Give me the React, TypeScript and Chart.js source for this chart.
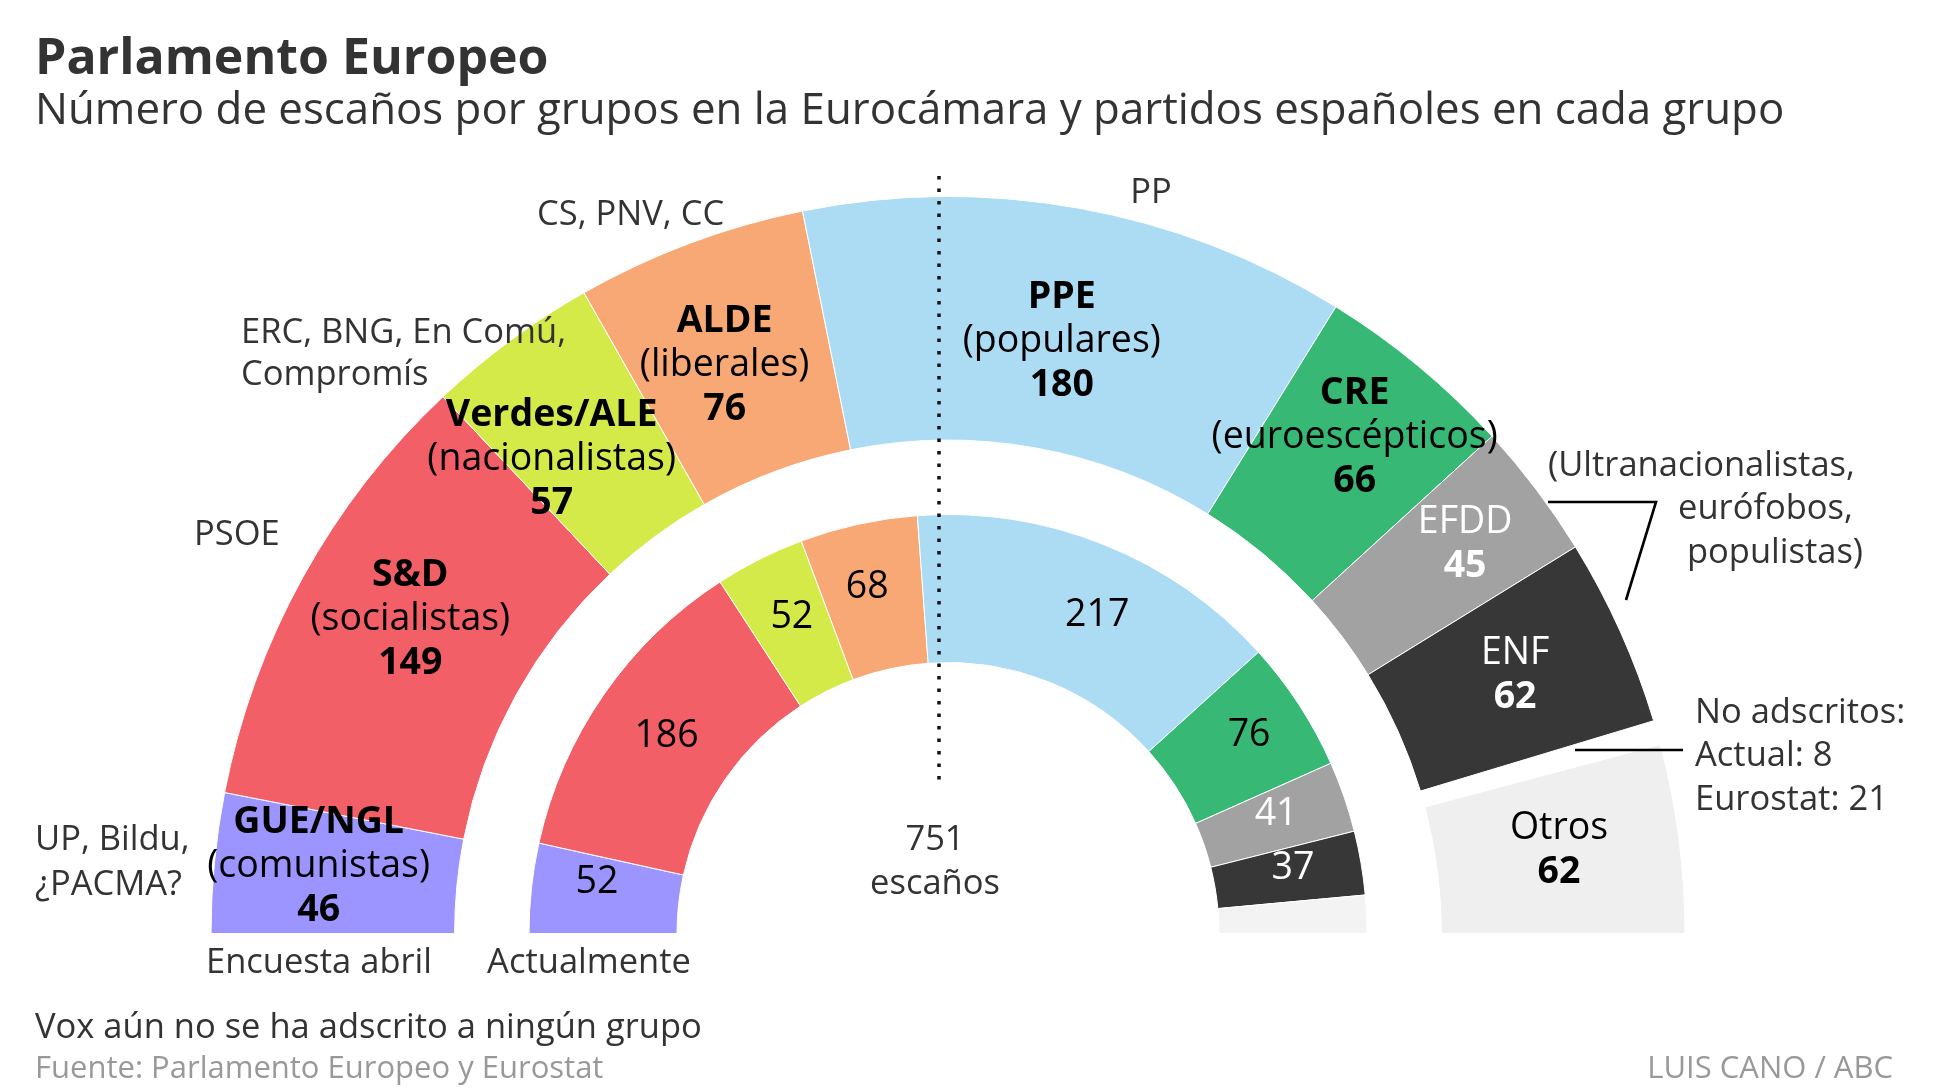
import React, { useEffect, useRef } from 'react';
import { Chart, registerables } from 'chart.js';

Chart.register(...registerables);

// ---- Data ----
const groups = ['GUE/NGL', 'S&D', 'Verdes/ALE', 'ALDE', 'PPE', 'CRE', 'EFDD', 'ENF', 'No adscritos', 'Otros'];
const groupDescriptions = ['(comunistas)', '(socialistas)', '(nacionalistas)', '(liberales)', '(populares)', '(euroescépticos)', '', '', '', ''];
const pollSeats = [46, 149, 57, 76, 180, 66, 45, 62, 8, 62]; // Encuesta abril
const currentSeats = [52, 186, 52, 68, 217, 76, 41, 37, 22, 0]; // Actualmente
const totalSeats = 751;

// ---- Styles ----
const FONT = '"Open Sans", "Noto Sans", sans-serif';
const outerColors = ['#9c95ff', '#f25f67', '#d3ea48', '#f7a874', '#acdcf4', '#37b875', '#a2a2a2', '#373737', 'rgba(0,0,0,0)', '#efefef'];
const innerColors = ['#9c95ff', '#f25f67', '#d3ea48', '#f7a874', '#acdcf4', '#37b875', '#a2a2a2', '#373737', '#f3f3f3', 'rgba(0,0,0,0)'];
const outerNameBold = [true, true, true, true, true, true, false, false, false, false];
const outerTextColor = ['#000', '#000', '#000', '#000', '#000', '#000', '#fff', '#fff', '#000', '#000'];
const innerTextColor = ['#000', '#000', '#000', '#000', '#000', '#000', '#fff', '#fff', '#000', '#000'];
const outerShowLabel = [true, true, true, true, true, true, true, true, false, true];
const innerShowLabel = [true, true, true, true, true, true, true, true, false, false];
const outerNudge = [[-17, -10], [1, -19], [-31, 19], [-8, 6], [5, 11], [14, -25], [26, -21], [6, -8], [0, 0], [1, -6]];
const innerNudge = [[-8, -16], [2, -3], [-1, -10], [-7, -11], [21, 0], [12, -12], [2, -9], [5, -9], [0, 0], [0, 0]];
const LABEL_SIZE = 37.5;
const LINE_GAP = 44;
const NOTE = 34.5;

const labelPlugin = {
  id: 'segLabels',
  afterDatasetsDraw(chart: any) {
    const ctx = chart.ctx as CanvasRenderingContext2D;
    ctx.save();
    ctx.textAlign = 'center';
    ctx.textBaseline = 'alphabetic';
    const drawBlock = (cx: number, cy: number, lines: { t: string; bold: boolean; color: string }[]) => {
      const n = lines.length;
      lines.forEach((ln, k) => {
        const y = cy + (k - (n - 1) / 2) * LINE_GAP + LABEL_SIZE * 0.34;
        ctx.font = `${ln.bold ? 'bold ' : ''}${LABEL_SIZE}px ${FONT}`;
        ctx.fillStyle = ln.color;
        ctx.fillText(ln.t, cx, y);
      });
    };
    const outer = chart.getDatasetMeta(0);
    outer.data.forEach((arc: any, i: number) => {
      if (!outerShowLabel[i]) return;
      const p = arc.getCenterPoint();
      const c = outerTextColor[i];
      const lines = [{ t: groups[i], bold: outerNameBold[i], color: c }];
      if (groupDescriptions[i]) lines.push({ t: groupDescriptions[i], bold: false, color: c });
      lines.push({ t: String(pollSeats[i]), bold: true, color: c });
      drawBlock(p.x + outerNudge[i][0], p.y + outerNudge[i][1], lines);
    });
    const inner = chart.getDatasetMeta(2);
    inner.data.forEach((arc: any, i: number) => {
      if (!innerShowLabel[i]) return;
      const p = arc.getCenterPoint();
      drawBlock(p.x + innerNudge[i][0], p.y + innerNudge[i][1], [
        { t: String(currentSeats[i]), bold: false, color: innerTextColor[i] },
      ]);
    });
    ctx.restore();
  },
  afterDraw(chart: any) {
    const ctx = chart.ctx as CanvasRenderingContext2D;
    ctx.save();
    // majority dotted line
    ctx.strokeStyle = '#111';
    ctx.lineWidth = 3.5;
    ctx.setLineDash([3.5, 9]);
    ctx.beginPath();
    ctx.moveTo(939, 176);
    ctx.lineTo(939, 782);
    ctx.stroke();
    ctx.setLineDash([]);
    // bracket for EFDD / ENF
    ctx.lineWidth = 2.6;
    ctx.strokeStyle = '#000';
    ctx.beginPath();
    ctx.moveTo(1548, 502);
    ctx.lineTo(1656, 502);
    ctx.lineTo(1626, 600);
    ctx.stroke();
    // no adscritos connector
    ctx.beginPath();
    ctx.moveTo(1575, 750);
    ctx.lineTo(1683, 750);
    ctx.stroke();
    ctx.restore();
  },
};

type TProps = { x: number; y: number; size?: number; bold?: boolean; color?: string; align?: 'left' | 'center' | 'right'; children: React.ReactNode };
function T({ x, y, size = NOTE, bold = false, color = '#333', align = 'left', children }: TProps) {
  const tx = align === 'left' ? '0' : align === 'center' ? '-50%' : '-100%';
  return (
    <div
      style={{
        position: 'absolute',
        left: x,
        top: y,
        transform: `translate(${tx}, -50%)`,
        fontSize: size,
        fontWeight: bold ? 700 : 400,
        color,
        lineHeight: 1,
        whiteSpace: 'nowrap',
        fontFamily: FONT,
      }}
    >
      {children}
    </div>
  );
}

export default function App() {
  const ref = useRef<HTMLCanvasElement>(null);
  useEffect(() => {
    const chart = new Chart(ref.current as HTMLCanvasElement, {
      type: 'doughnut',
      data: {
        labels: groups,
        datasets: [
          {
            label: 'Encuesta abril',
            data: pollSeats,
            backgroundColor: outerColors,
            borderColor: '#ffffff',
            borderWidth: pollSeats.map((v, i) => (outerColors[i].startsWith('rgba') ? 0 : 1)),
            weight: 243.6,
          },
          {
            label: 'spacer',
            data: [totalSeats],
            backgroundColor: ['rgba(0,0,0,0)'],
            borderWidth: 0,
            weight: 74.4,
          },
          {
            label: 'Actualmente',
            data: currentSeats,
            backgroundColor: innerColors,
            borderColor: '#ffffff',
            borderWidth: currentSeats.map((v, i) => (innerColors[i].startsWith('rgba') ? 0 : 1)),
            weight: 148,
          },
        ] as any,
      },
      options: {
        responsive: false,
        maintainAspectRatio: false,
        animation: false,
        events: [],
        rotation: -90,
        circumference: 180,
        cutout: '36.77%',
        layout: { padding: { top: 196, bottom: 156, left: 100, right: 141 } },
        plugins: {
          legend: { display: false },
          tooltip: { enabled: false },
        },
      } as any,
      plugins: [labelPlugin],
    });
    return () => chart.destroy();
  }, []);

  return (
    <div style={{ position: 'absolute', left: 0, top: 0, width: 1937, height: 1090, background: '#fff', overflow: 'hidden', fontFamily: FONT }}>
      <canvas ref={ref} width={1937} height={1090} style={{ position: 'absolute', left: 0, top: 0, width: 1937, height: 1090 }} />
      <T x={35} y={55} size={50} bold>Parlamento Europeo</T>
      <T x={35} y={108} size={43.8}>Número de escaños por grupos en la Eurocámara y partidos españoles en cada grupo</T>

      <T x={35} y={837}>UP, Bildu,</T>
      <T x={35} y={882}>¿PACMA?</T>
      <T x={194} y={532}>PSOE</T>
      <T x={241} y={330}>ERC, BNG, En Comú,</T>
      <T x={241} y={372}>Compromís</T>
      <T x={537} y={212}>CS, PNV, CC</T>
      <T x={1151} y={190} align="center">PP</T>
      <T x={1548} y={463}>(Ultranacionalistas,</T>
      <T x={1853} y={506} align="right">eurófobos,</T>
      <T x={1863} y={550} align="right">populistas)</T>
      <T x={1695} y={710}>No adscritos:</T>
      <T x={1695} y={753}>Actual: 8</T>
      <T x={1695} y={797}>Eurostat: 21</T>

      <T x={935} y={837} align="center">{String(totalSeats)}</T>
      <T x={935} y={881} align="center">escaños</T>
      <T x={319} y={960} align="center">Encuesta abril</T>
      <T x={589} y={960} align="center">Actualmente</T>

      <T x={35} y={1025} size={34.5}>Vox aún no se ha adscrito a ningún grupo</T>
      <T x={35} y={1066} size={31} color="#999">Fuente: Parlamento Europeo y Eurostat</T>
      <T x={1893} y={1066} size={31} color="#999" align="right">LUIS CANO / ABC</T>
    </div>
  );
}
